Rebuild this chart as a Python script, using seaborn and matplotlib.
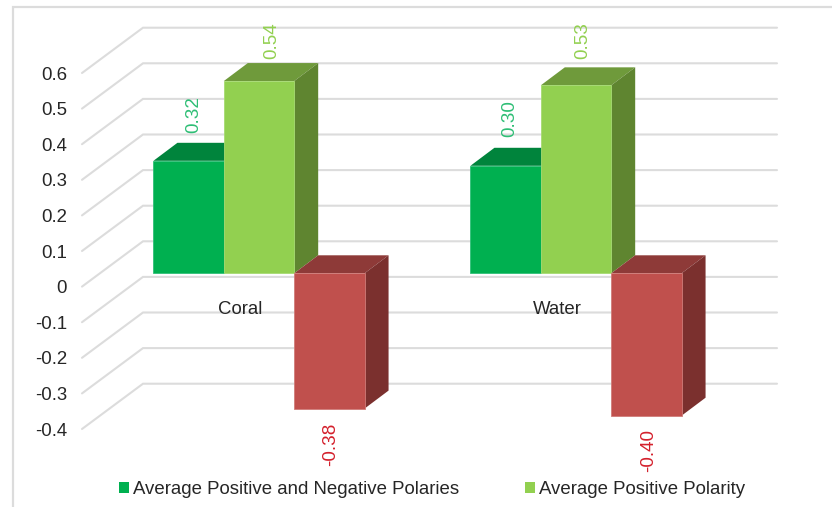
"""Coral / water polarity chart, 3D-look columns built on a seaborn barplot."""

import matplotlib.pyplot as plt
import pandas as pd
import seaborn as sns
from matplotlib.lines import Line2D
from matplotlib.patches import Patch, Polygon
from matplotlib.transforms import Affine2D

categories = ["Coral", "Water"]
series = [
    "Average Positive and Negative Polaries",
    "Average Positive Polarity",
    "Average Negative Polarity",
]
mixed_values = [0.316, 0.302]
positive_values = [0.54, 0.528]
negative_values = [-0.38, -0.40]
y_ticks = [0.6, 0.5, 0.4, 0.3, 0.2, 0.1, 0, -0.1, -0.2, -0.3, -0.4]
y_tick_labels = ["0.6", "0.5", "0.4", "0.3", "0.2", "0.1", "0",
                 "-0.1", "-0.2", "-0.3", "-0.4"]

FRONT = ["#00B050", "#92D050", "#C0504D"]
TOP = ["#00843C", "#6F9A3B", "#8E3A38"]
SIDE = ["#006F32", "#5F8530", "#7B302E"]
EDGE = ["#30C078", "#A6DA72", "#D07C79"]
LABEL = ["#2EBE75", "#92D050", "#D4202C"]
GRID = "#DCDCDC"
TEXT = "#262626"

# hand placed data labels in the original, pixels from the bar end
LABEL_SHIFT = [
    [(5.3, 46.7), (4.3, 47)],
    [(13, 40), (6.7, 44.5)],
    [(0.8, -35.3), (2.4, -35)],
]

W, H = 832, 507
AX_LEFT, AX_W = 100.5, 634
AX_BOTTOM, AX_H = 415.7, 356

sns.set_theme(style="white")
plt.rcParams["font.family"] = ["Liberation Sans", "DejaVu Sans"]

df = pd.DataFrame({
    "site": categories * 3,
    "kind": [s for s in series for _ in categories],
    "value": mixed_values + positive_values + negative_values,
})

fig = plt.figure(figsize=(W / 100, H / 100), dpi=100, facecolor="white")
ax = fig.add_axes([AX_LEFT / W, (H - AX_BOTTOM) / H, AX_W / W, AX_H / H])
sns.barplot(data=df, x="site", y="value", hue="kind", hue_order=series,
            order=categories, palette=FRONT, saturation=1, width=0.666,
            gap=0, legend=False, ax=ax)
ax.set_xlim(-0.5, 1.5)
ax.set_ylim(-0.4, 0.6)
ax.set_xlabel("")
ax.set_ylabel("")
sns.despine(ax=ax, left=True, bottom=True)

px_x = 2 / AX_W
px_y = 1 / AX_H

# walls: floor edge in front of the bars, back wall behind them
front_dx, front_dy = -18.5 * px_x, -13.3 * px_y
back_dx, back_dy = 42.5 * px_x, 32 * px_y
for tick in y_ticks:
    ax.plot([-0.5 + front_dx, -0.5 + back_dx, 1.5 + back_dx],
            [tick + front_dy, tick + back_dy, tick + back_dy],
            color=GRID, lw=1.5, zorder=0, clip_on=False,
            solid_joinstyle="miter")

# depth of the columns
depth_x, depth_y = 24 * px_x, 18 * px_y
for i, container in enumerate(ax.containers):
    z = 3 + i
    for j, bar in enumerate(container):
        x0, x1 = bar.get_x(), bar.get_x() + bar.get_width()
        value = bar.get_height() + bar.get_y()
        top = max(value, 0)
        bottom = min(value, 0)
        bar.set_zorder(z + 0.2)
        bar.set_edgecolor(EDGE[i])
        bar.set_linewidth(0.6)
        bar.set_clip_on(False)
        ax.add_patch(Polygon(
            [(x0, top), (x0 + depth_x, top + depth_y),
             (x1 + depth_x, top + depth_y), (x1, top)],
            facecolor=TOP[i], edgecolor="none", zorder=z, clip_on=False))
        ax.add_patch(Polygon(
            [(x1, top), (x1 + depth_x, top + depth_y),
             (x1 + depth_x, bottom + depth_y), (x1, bottom)],
            facecolor=SIDE[i], edgecolor="none", zorder=z, clip_on=False))
        dx, dy = LABEL_SHIFT[i][j]
        ax.annotate(f"{value:.2f}", ((x0 + x1) / 2, value),
                    xytext=(dx, dy), textcoords="offset pixels",
                    rotation=90, ha="center", va="center", fontsize=13.6,
                    color=LABEL[i], zorder=9, annotation_clip=False)

# tick labels sit on the front floor edge, not on the axes box
ax.set_yticks(y_ticks)
ax.set_yticklabels(y_tick_labels)
ax.tick_params(axis="y", length=0, pad=24, labelsize=13.4, labelcolor=TEXT)
for label in ax.get_yticklabels():
    label.set_transform(label.get_transform() + Affine2D().translate(0, -13.3))

ax.tick_params(axis="x", length=0, pad=0, labelsize=13.4, labelcolor=TEXT)
for label in ax.get_xticklabels():
    label.set_verticalalignment("center")
    label.set_zorder(10)
    label.set_transform(label.get_transform() + Affine2D().translate(-18.5, AX_BOTTOM - 309.5))

handles = [Patch(facecolor=FRONT[0], edgecolor="none"),
           Patch(facecolor=FRONT[1], edgecolor="none")]
fig.legend(handles, series[:2], ncol=2, frameon=False, fontsize=13.4,
           labelcolor=TEXT, loc="center left",
           bbox_to_anchor=(119 / W, 1 - 489.5 / H), borderpad=0, borderaxespad=0,
           handlelength=0.54, handleheight=0.54, handletextpad=0.2,
           columnspacing=3.55)

# outer frame of the pasted chart (top and left edges only)
fig.add_artist(Line2D([13 / W, 13 / W, 1], [0, 1 - 6.5 / H, 1 - 6.5 / H],
                      color=GRID, lw=1.6, solid_joinstyle="miter"))

fig.savefig("out.png", dpi=100)
